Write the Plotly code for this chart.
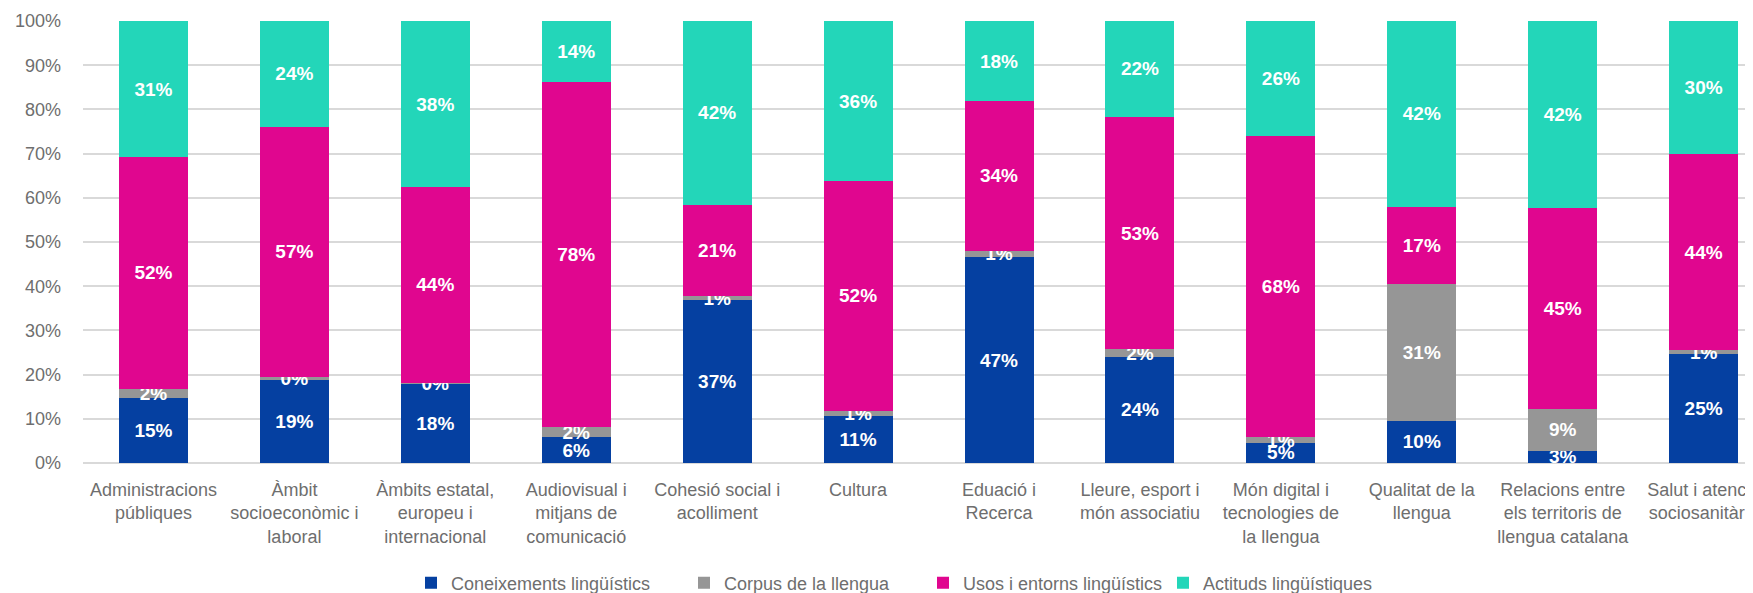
import plotly.graph_objects as go

categories = [
    "Administracions<br>públiques",
    "Àmbit<br>socioeconòmic i<br>laboral",
    "Àmbits estatal,<br>europeu i<br>internacional",
    "Audiovisual i<br>mitjans de<br>comunicació",
    "Cohesió social i<br>acolliment",
    "Cultura",
    "Eduació i<br>Recerca",
    "Lleure, esport i<br>món associatiu",
    "Món digital i<br>tecnologies de<br>la llengua",
    "Qualitat de la<br>llengua",
    "Relacions entre<br>els territoris de<br>llengua catalana",
    "Salut i atenció<br>sociosanitària",
]

coneixements = [14.7, 19.0, 18.0, 5.8, 36.8, 10.7, 46.6, 24.0, 4.6, 9.6, 2.8, 24.6]
corpus       = [2.1, 0.4, 0.2, 2.4, 0.9, 1.1, 1.4, 1.7, 1.2, 31.0, 9.4, 1.0]
usos         = [52.4, 56.7, 44.2, 78.1, 20.7, 52.0, 33.9, 52.6, 68.2, 17.4, 45.4, 44.2]
actituds     = [30.8, 23.9, 37.6, 13.7, 41.6, 36.2, 18.1, 21.7, 26.0, 42.0, 42.4, 30.2]

series_names = ["Coneixements lingüístics", "Corpus de la llengua",
                "Usos i entorns lingüístics", "Actituds lingüístiques"]
series_values = [coneixements, corpus, usos, actituds]
colors = ["#0540A1", "#969696", "#E0068F", "#23D6B9"]

FONT = "Liberation Sans, Arial, Helvetica, sans-serif"
GRAY = "#6E6E6E"

# page body has an 8px default margin; figure sized to fit the window
W, H = 1745, 585
ML, MT, MB = 75, 13, 130
PLOT_H = H - MT - MB
legend_ids = ["legend", "legend2", "legend3", "legend4"]
legend_px = [403, 676, 915, 1155]
legend_center_px = 575

fig = go.Figure()
for name, vals, col, lid in zip(series_names, series_values, colors, legend_ids):
    fig.add_trace(go.Bar(
        x=categories, y=vals, name=name, legend=lid,
        marker=dict(color=col, line=dict(width=0)),
        texttemplate="<b>%{y:.0f}%</b>",
        textposition="inside", insidetextanchor="middle",
        textangle=0,
        textfont=dict(color="white", size=19, family=FONT),
        hoverinfo="skip",
    ))

legend_common = dict(
    orientation="h", xanchor="left",
    y=(H - MB - legend_center_px) / PLOT_H, yanchor="middle",
    font=dict(size=18, color=GRAY, family=FONT),
    itemwidth=30, bgcolor="rgba(0,0,0,0)",
)
legends = {}
for lid, px in zip(legend_ids, legend_px):
    legends[lid] = dict(legend_common, x=(px - ML) / (W - ML))

fig.update_layout(
    barmode="stack",
    bargap=0.51,
    width=W, height=H,
    margin=dict(l=ML, r=0, t=MT, b=MB, autoexpand=False),
    paper_bgcolor="white", plot_bgcolor="white",
    font=dict(family=FONT, color=GRAY, size=18),
    uniformtext=dict(minsize=19, mode="show"),
    showlegend=True,
    xaxis=dict(
        range=[-0.5, 11.35], showgrid=False, showline=False, ticks="",
        automargin=False, ticklabelstandoff=14,
        tickfont=dict(size=18, color=GRAY, family=FONT),
    ),
    yaxis=dict(
        range=[0, 100], dtick=10, ticksuffix="%",
        showgrid=True, gridcolor="#D9D9D9", gridwidth=1.5,
        zeroline=True, zerolinecolor="#D9D9D9", zerolinewidth=1.5,
        showline=False, ticks="", ticklabelstandoff=21,
        automargin=False,
        tickfont=dict(size=18, color=GRAY, family=FONT),
    ),
    **legends,
)

fig.write_html("out.html")
